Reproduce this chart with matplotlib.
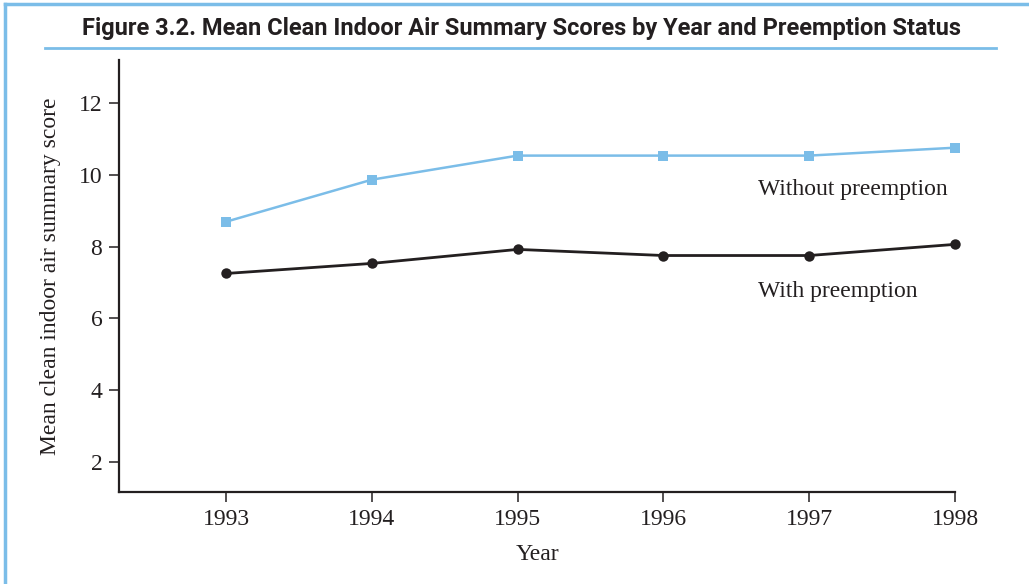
import matplotlib
matplotlib.use("Agg")
import matplotlib.pyplot as plt
from matplotlib.lines import Line2D

years = [1993, 1994, 1995, 1996, 1997, 1998]
without_preemption = [8.69, 9.86, 10.53, 10.53, 10.53, 10.75]
with_preemption = [7.25, 7.53, 7.92, 7.75, 7.75, 8.06]
yticks = [2, 4, 6, 8, 10, 12]
title = "Figure 3.2. Mean Clean Indoor Air Summary Scores by Year and Preemption Status"

blue = "#7bbde8"
dark = "#231f20"
serif = ["Liberation Serif", "DejaVu Serif"]

fig = plt.figure(figsize=(10.29, 5.84), dpi=100)
W, H = 1029, 584

# frame lines (top and left)
fig.add_artist(Line2D([5 / W, 1.0], [1 - 4 / H, 1 - 4 / H], color=blue, lw=2.5, transform=fig.transFigure))
fig.add_artist(Line2D([5 / W, 5 / W], [0, 1 - 4 / H], color=blue, lw=2.5, transform=fig.transFigure))
# title underline
fig.add_artist(Line2D([45 / W, 996 / W], [1 - 48 / H, 1 - 48 / H], color=blue, lw=2, transform=fig.transFigure))

t = fig.text(521 / W, 1 - 29 / H, title, ha="center", va="center", fontsize=20,
             fontweight="bold", family=["Roboto", "Liberation Sans", "DejaVu Sans"],
             color=dark)
# fit title width to ~875 px
renderer = fig.canvas.get_renderer()
w = t.get_window_extent(renderer).width
t.set_fontsize(20 * 875 / w)

ax = fig.add_axes([119 / W, 1 - 492 / H, (955 - 119) / W, (492 - 60) / H])
ax.plot(years, without_preemption, color=blue, lw=1.8, marker="s", markersize=7,
        markeredgewidth=0, markerfacecolor=blue, clip_on=False)
ax.plot(years, with_preemption, color=dark, lw=2, marker="o", markersize=7.5,
        markeredgewidth=0, markerfacecolor=dark, clip_on=False)

ax.set_xlim(1992.266, 1998)
ax.set_ylim(1.17, 13.19)
ax.set_xticks(years)
ax.set_xticklabels([str(y) for y in years])
ax.set_yticks(yticks)
ax.set_yticklabels([str(v) for v in yticks])

for s in ["top", "right"]:
    ax.spines[s].set_visible(False)
for s in ["left", "bottom"]:
    ax.spines[s].set_linewidth(1.6)
    ax.spines[s].set_color(dark)
ax.tick_params(axis="both", direction="out", length=7, width=1.1, color=dark,
               labelsize=17, labelcolor=dark, pad=5)
for lab in ax.get_xticklabels() + ax.get_yticklabels():
    lab.set_family(serif)

ax.set_xlabel("Year", fontsize=17, family=serif, color=dark, labelpad=10)
ax.set_ylabel("Mean clean indoor air summary score", fontsize=17, family=serif, color=dark, labelpad=13)

ax.text(1996.65, 9.6, "Without preemption", fontsize=17, family=serif, color=dark, ha="left", va="center")
ax.text(1996.65, 6.75, "With preemption", fontsize=17, family=serif, color=dark, ha="left", va="center")

fig.savefig("out.png", dpi=100)
